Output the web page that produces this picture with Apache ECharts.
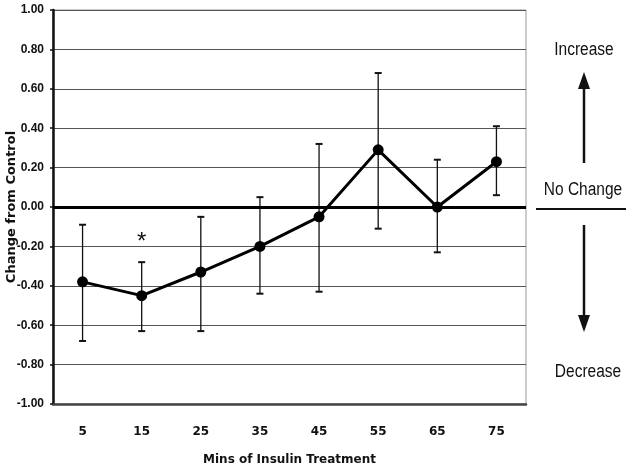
<!DOCTYPE html>
<html>
<head>
<meta charset="utf-8">
<script src="https://cdn.jsdelivr.net/npm/echarts@6/dist/echarts.min.js"></script>
<style>
  html, body { margin: 0; padding: 0; background: #fff; }
  #chart { width: 630px; height: 470px; }
</style>
</head>
<body>
<div id="chart"></div>
<script>
// minutes of insulin treatment
const minutes = ["5", "15", "25", "35", "45", "55", "65", "75"];
// mean change from control
const meanChange = [-0.38, -0.45, -0.33, -0.2, -0.05, 0.29, 0.0, 0.23];
// error bar ends
const errLow = [-0.68, -0.63, -0.63, -0.44, -0.43, -0.11, -0.23, 0.06];
const errHigh = [-0.09, -0.28, -0.05, 0.05, 0.32, 0.68, 0.24, 0.41];
// significance marker
const starAt = ["15", -0.16];

const chart = echarts.init(document.getElementById("chart"));

const errData = minutes.map((m, i) => [i, errLow[i], errHigh[i]]);

// side note text, squeezed a bit to look like a narrow face
function sideText(txt, x, y) {
  return {
    type: "text", x: x, y: y, scaleX: 0.86,
    style: { text: txt, font: "18px Liberation Sans", fill: "#111", align: "center", verticalAlign: "middle" }
  };
}

chart.setOption({
  animation: false,
  grid: {
    left: 53, right: 104, top: 10, bottom: 66,
    outerBoundsMode: "none",
    show: true, borderColor: "#999", borderWidth: 1
  },
  xAxis: {
    type: "category",
    data: minutes,
    name: "Mins of Insulin Treatment",
    nameLocation: "middle",
    nameGap: 50,
    nameTextStyle: { fontFamily: "DejaVu Sans", fontWeight: "bold", fontSize: 12, color: "#111" },
    axisLine: { onZero: false, lineStyle: { color: "#444", width: 2.5 } },
    axisTick: { show: false },
    axisLabel: { margin: 22, fontFamily: "DejaVu Sans", fontWeight: "bold", fontSize: 12, color: "#111" }
  },
  yAxis: {
    type: "value",
    min: -1, max: 1, interval: 0.2,
    name: "Change from Control",
    nameLocation: "middle",
    nameGap: 35,
    nameMoveOverlap: false,
    nameTextStyle: { fontFamily: "DejaVu Sans", fontWeight: "bold", fontSize: 13, color: "#111" },
    axisLine: { show: true, lineStyle: { color: "#111", width: 2.5 } },
    axisTick: { show: true, length: 3, lineStyle: { color: "#111", width: 1.5 } },
    axisLabel: {
      margin: 9,
      fontFamily: "Liberation Sans",
      fontWeight: "bold", fontSize: 12, color: "#111",
      formatter: v => v.toFixed(2)
    },
    splitLine: { lineStyle: { color: "#555", width: 1 } }
  },
  series: [
    {
      type: "custom",
      data: errData,
      z: 3,
      renderItem: function (params, api) {
        const x = api.value(0);
        const lo = api.coord([x, api.value(1)]);
        const hi = api.coord([x, api.value(2)]);
        const cap = 3.5;
        return {
          type: "group",
          children: [
            { type: "line", shape: { x1: lo[0], y1: lo[1], x2: hi[0], y2: hi[1] }, style: { stroke: "#111", lineWidth: 1.3 } },
            { type: "line", shape: { x1: lo[0] - cap, y1: lo[1], x2: lo[0] + cap, y2: lo[1] }, style: { stroke: "#111", lineWidth: 2 } },
            { type: "line", shape: { x1: hi[0] - cap, y1: hi[1], x2: hi[0] + cap, y2: hi[1] }, style: { stroke: "#111", lineWidth: 2 } }
          ]
        };
      }
    },
    {
      type: "line",
      data: meanChange,
      z: 4,
      symbol: "circle",
      symbolSize: 11,
      lineStyle: { color: "#000", width: 3 },
      itemStyle: { color: "#000" },
      markLine: {
        silent: true,
        symbol: "none",
        label: { show: false },
        lineStyle: { color: "#000", width: 3, type: "solid" },
        data: [{ yAxis: 0 }]
      },
      markPoint: {
        symbol: "circle",
        symbolSize: 1,
        itemStyle: { color: "transparent" },
        label: { show: true, formatter: "*", fontFamily: "Liberation Sans", fontSize: 24, color: "#111", offset: [0, 4] },
        data: [{ coord: starAt }]
      }
    }
  ],
  graphic: [
    sideText("Increase", 584, 50),
    sideText("No Change", 583, 190),
    sideText("Decrease", 588, 372),
    { type: "line", shape: { x1: 536, y1: 209, x2: 626, y2: 209 }, style: { stroke: "#111", lineWidth: 2 } },
    { type: "line", shape: { x1: 584, y1: 163, x2: 584, y2: 86 }, style: { stroke: "#111", lineWidth: 2.5 } },
    { type: "polygon", shape: { points: [[584, 72], [578, 89], [590, 89]] }, style: { fill: "#111" } },
    { type: "line", shape: { x1: 584, y1: 225, x2: 584, y2: 318 }, style: { stroke: "#111", lineWidth: 2.5 } },
    { type: "polygon", shape: { points: [[584, 332], [578, 315], [590, 315]] }, style: { fill: "#111" } }
  ]
});
</script>
</body>
</html>
